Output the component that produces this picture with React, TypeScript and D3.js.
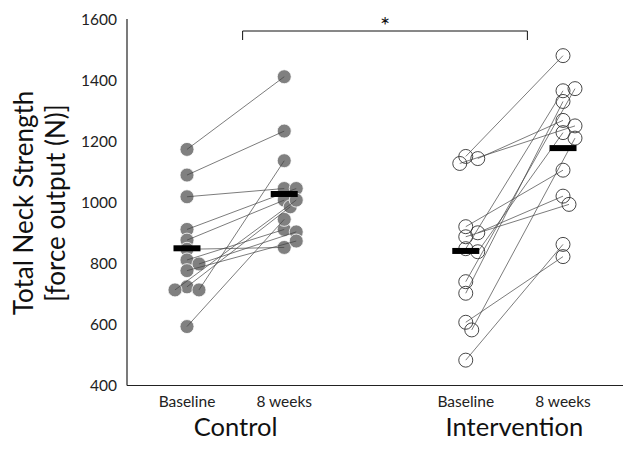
import React from 'react';
import * as d3 from 'd3';

// ---- data ----
const groups = ['Control', 'Intervention'];
const timepoints = ['Baseline', '8 weeks'];
// paired subjects: baseline[i] -> eightWeeks[i]
const controlBaseline = [1173, 1089, 1018, 911, 876, 846, 811, 798, 776, 723, 713, 713, 593];
const controlEightWeeks = [1411, 1233, 1045, 1045, 1007, 852, 911, 903, 873, 985, 1136, 1007, 944];
const interventionBaseline = [1150, 1143, 1127, 920, 900, 887, 848, 838, 740, 702, 607, 582, 483];
const interventionEightWeeks = [1480, 1268, 1250, 1105, 1020, 993, 1365, 1228, 1372, 1330, 822, 1210, 862];
const yTicks = [400, 600, 800, 1000, 1200, 1400, 1600];
const yLabelLines = ['Total Neck Strength', '[force output (N)]'];
const significanceMark = '*';

const W = 631;
const H = 453;
const FONT = 'Lato, "Open Sans", sans-serif';
const R = 7;

function dodge(ys: number[]): number[] {
  const step = 6;
  const minD = 9;
  const placed: { x: number; y: number }[] = [];
  const cands = [0, 1, -1, 2, -2, 3, -3];
  return ys.map((y) => {
    let off = 0;
    for (const c of cands) {
      const x = c * step;
      if (placed.every((p) => (p.x - x) ** 2 + (p.y - y) ** 2 >= minD * minD)) {
        off = x;
        break;
      }
    }
    placed.push({ x: off, y });
    return off;
  });
}

export default function App() {
  const y = d3.scaleLinear().domain([400, 1600]).range([385.5, 19]);
  const xGroup = d3.scaleBand().domain(groups).range([127, 623]).paddingInner(0.4).paddingOuter(0.0896);
  const xTime = d3.scalePoint().domain(timepoints).range([0, xGroup.bandwidth()]).padding(0.36);

  const series = [
    { group: 'Control', base: controlBaseline, post: controlEightWeeks, filled: true },
    { group: 'Intervention', base: interventionBaseline, post: interventionEightWeeks, filled: false },
  ];

  const xAxisLeft = 127;
  const xAxisRight = 623;
  const yBottom = y(400);

  const prepared = series.map((s) => {
    const gx = xGroup(s.group)!;
    const bx = gx + xTime('Baseline')!;
    const px = gx + xTime('8 weeks')!;
    const by = s.base.map((v) => y(v));
    const py = s.post.map((v) => y(v));
    const bOff = dodge(by);
    const pOff = dodge(py);
    return {
      ...s,
      bx,
      px,
      pts: s.base.map((_, i) => ({
        x1: bx + bOff[i],
        y1: by[i],
        x2: px + pOff[i],
        y2: py[i],
      })),
      meanBase: d3.mean(s.base)!,
      meanPost: d3.mean(s.post)!,
      center: gx + xGroup.bandwidth() / 2,
    };
  });

  const bracketX1 = prepared[0].center + 7;
  const bracketX2 = prepared[1].center + 13;

  return (
    <svg width={W} height={H} style={{ position: 'absolute', left: 0, top: 0, background: '#fff' }} fontFamily={FONT}>
      {/* axes */}
      <line x1={xAxisLeft} x2={xAxisLeft} y1={y(1600)} y2={yBottom} stroke="#222" strokeWidth={1.2} />
      <line x1={xAxisLeft} x2={xAxisRight} y1={yBottom} y2={yBottom} stroke="#222" strokeWidth={1.2} />
      {yTicks.map((t) => (
        <text key={t} x={117} y={y(t)} dy="0.36em" textAnchor="end" fontSize={15.5} fill="#222">
          {t}
        </text>
      ))}
      {yLabelLines.map((l, i) => (
        <text
          key={l}
          transform={`translate(${33 + i * 32},203) rotate(-90)`}
          textAnchor="middle"
          fontSize={26}
          fill="#111"
        >
          {l}
        </text>
      ))}

      {/* points and lines */}
      {prepared.map((s) => (
        <g key={s.group}>
          {s.pts.map((p, i) => (
            <g key={i}>
              <circle cx={p.x1} cy={p.y1} r={R} fill={s.filled ? '#808080' : 'none'} stroke={s.filled ? '#fff' : '#333'} strokeWidth={s.filled ? 0.8 : 0.9} />
              <circle cx={p.x2} cy={p.y2} r={R} fill={s.filled ? '#808080' : 'none'} stroke={s.filled ? '#fff' : '#333'} strokeWidth={s.filled ? 0.8 : 0.9} />
            </g>
          ))}
          {s.pts.map((p, i) => (
            <line key={'l' + i} x1={p.x1} y1={p.y1} x2={p.x2} y2={p.y2} stroke="#444" strokeWidth={0.7} />
          ))}
          <rect x={s.bx - 13.5} y={y(s.meanBase) - 3} width={27} height={6} fill="#000" />
          <rect x={s.px - 13.5} y={y(s.meanPost) - 3} width={27} height={6} fill="#000" />
        </g>
      ))}

      {/* x labels */}
      {prepared.map((s) => (
        <g key={'lab' + s.group}>
          <text x={s.bx} y={407} textAnchor="middle" fontSize={15.5} fill="#222">Baseline</text>
          <text x={s.px} y={407} textAnchor="middle" fontSize={15.5} fill="#222">8 weeks</text>
          <text x={s.center} y={436} textAnchor="middle" fontSize={25.5} fill="#111">{s.group}</text>
        </g>
      ))}

      {/* significance bracket */}
      <path d={`M${bracketX1},40 V31 H${bracketX2} V40`} fill="none" stroke="#111" strokeWidth={1} />
      <text x={(bracketX1 + bracketX2) / 2} y={34} textAnchor="middle" fontSize={24} fill="#111">
        {significanceMark}
      </text>
    </svg>
  );
}
